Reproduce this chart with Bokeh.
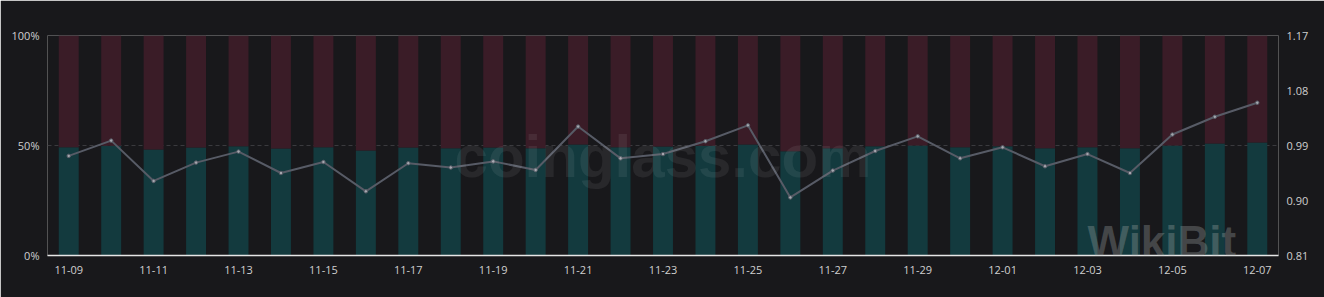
from bokeh.plotting import figure
from bokeh.models import Range1d, LinearAxis, FixedTicker, Label, ColumnDataSource
from bokeh.embed import file_html
from bokeh.resources import INLINE

dates = ["11-09", "11-10", "11-11", "11-12", "11-13", "11-14", "11-15", "11-16", "11-17", "11-18",
         "11-19", "11-20", "11-21", "11-22", "11-23", "11-24", "11-25", "11-26", "11-27", "11-28",
         "11-29", "11-30", "12-01", "12-02", "12-03", "12-04", "12-05", "12-06", "12-07"]
long_pct = [49.2, 49.9, 48.2, 49.1, 49.7, 48.6, 49.2, 47.7, 49.1, 48.8,
            49.1, 48.8, 50.5, 49.2, 49.5, 49.9, 50.5, 47.4, 48.8, 49.7,
            50.0, 49.2, 49.7, 48.8, 49.2, 48.8, 50.0, 50.9, 51.4]
ratio = [0.973, 0.998, 0.932, 0.962, 0.980, 0.945, 0.963, 0.915, 0.961, 0.954,
         0.964, 0.950, 1.021, 0.969, 0.976, 0.997, 1.023, 0.905, 0.949, 0.981,
         1.005, 0.969, 0.987, 0.956, 0.976, 0.945, 1.008, 1.037, 1.060]
left_ticks = [0, 50, 100]
left_labels = ["0%", "50%", "100%"]
right_ticks = [0.81, 0.90, 0.99, 1.08, 1.17]

BG = "#18181b"
n = len(dates)
idx = list(range(n))
src = ColumnDataSource(dict(x=idx, long=long_pct, full=[100] * n, ratio=ratio))

p = figure(width=1324, height=297, output_backend="svg", toolbar_location=None,
           x_range=Range1d(-0.5, n - 0.5), y_range=Range1d(0, 100),
           min_border_left=47, min_border_right=46, min_border_top=35, min_border_bottom=42)
p.background_fill_color = BG
p.border_fill_color = BG
p.outline_line_color = None
p.extra_y_ranges = {"ratio": Range1d(0.81, 1.17)}

p.vbar(x="x", top="long", bottom=0, width=0.47, source=src, fill_color="#133a3e", line_color=None)
p.vbar(x="x", top="full", bottom="long", width=0.47, source=src, fill_color="#3a1c27", line_color=None)

p.line(x="x", y="ratio", source=src, y_range_name="ratio", line_color="#575b66", line_width=2)
p.scatter(x="x", y="ratio", source=src, y_range_name="ratio", size=3.5,
          fill_color="#a4a7ae", line_color="#575b66", line_width=1)

font = "Open Sans"
LBL = "#cfcfcf"
xa = p.xaxis[0]
xa.ticker = FixedTicker(ticks=idx[::2])
xa.major_label_overrides = {i: dates[i] for i in idx}
xa.axis_line_color = "#e6e6e6"
xa.axis_line_width = 1.5
xa.major_tick_line_color = None
xa.minor_tick_line_color = None
xa.major_label_text_color = LBL
xa.major_label_text_font = font
xa.major_label_text_font_size = "11px"
xa.major_label_standoff = 4

ya = p.yaxis[0]
ya.ticker = FixedTicker(ticks=left_ticks)
ya.major_label_overrides = {t: l for t, l in zip(left_ticks, left_labels)}
ya.axis_line_color = None
ya.major_tick_line_color = None
ya.minor_tick_line_color = None
ya.major_label_text_color = LBL
ya.major_label_text_font = font
ya.major_label_text_font_size = "11px"
ya.major_label_standoff = 2

ra = LinearAxis(y_range_name="ratio", ticker=FixedTicker(ticks=right_ticks))
ra.major_label_overrides = {t: f"{t:.2f}" for t in right_ticks}
ra.axis_line_color = None
ra.major_tick_line_color = None
ra.minor_tick_line_color = None
ra.major_label_text_color = LBL
ra.major_label_text_font = font
ra.major_label_text_font_size = "11px"
ra.major_label_standoff = 2
p.add_layout(ra, "right")

p.xgrid.grid_line_color = None
p.ygrid.grid_line_color = "#3a3a3e"
p.ygrid.grid_line_dash = "4 3"
p.ygrid.grid_line_width = 1

p.add_layout(Label(x=14, y=45, text="coinglass.com", text_align="center", text_baseline="middle",
                   text_font="Arial", text_font_style="bold", text_font_size="60px",
                   text_color="#ffffff", text_alpha=0.07))
p.add_layout(Label(x=24.0, y=6.5, text="WikiBit", text_align="left", text_baseline="middle",
                   text_font="Arial", text_font_style="bold", text_font_size="44px",
                   text_color="#9aa0a0", text_alpha=0.35))

open("out.html", "w").write(file_html(p, INLINE))
